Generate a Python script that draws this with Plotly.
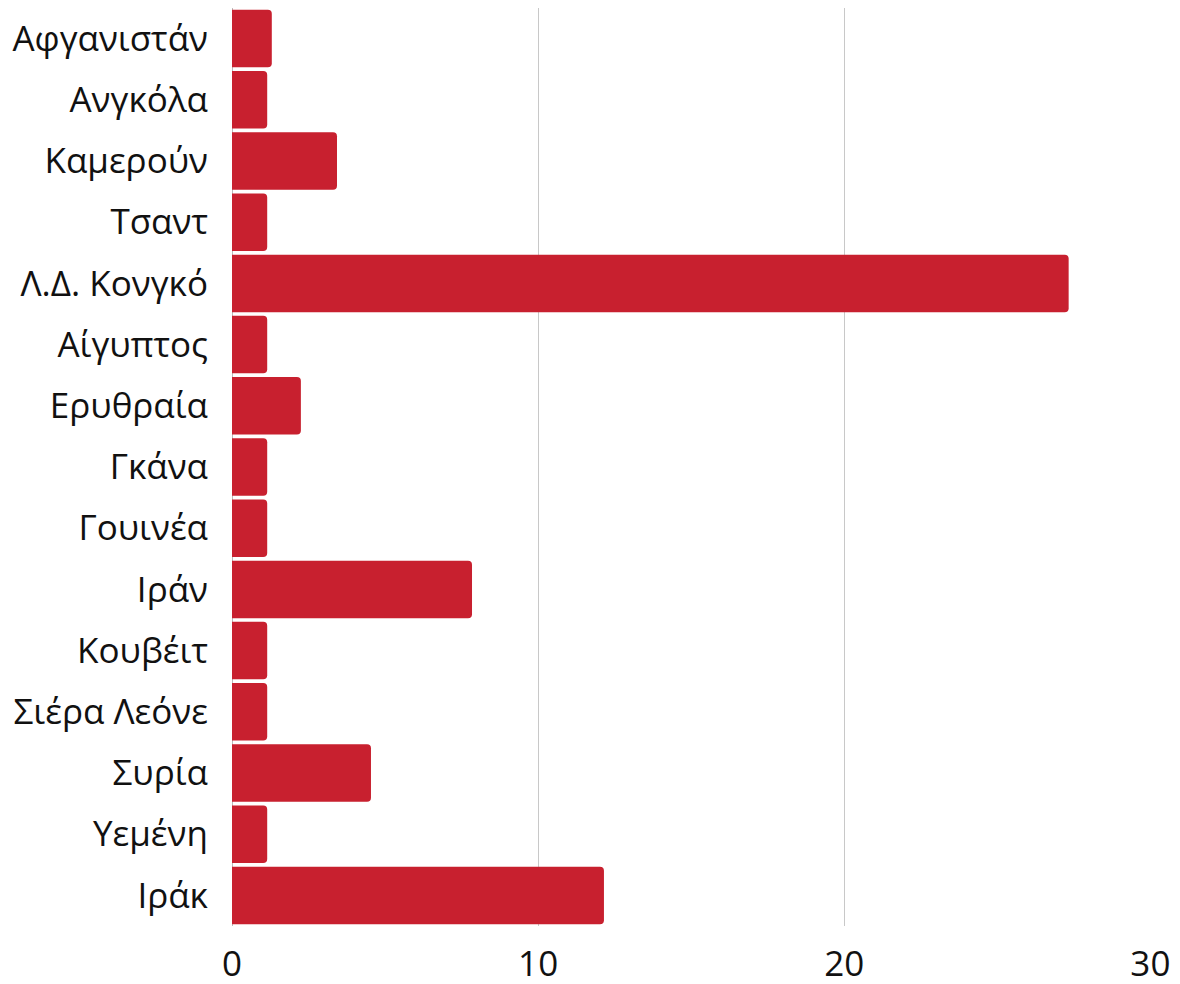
import plotly.graph_objects as go

countries = ["Αφγανιστάν", "Ανγκόλα", "Καμερούν", "Τσαντ", "Λ.Δ. Κονγκό", "Αίγυπτος",
             "Ερυθραία", "Γκάνα", "Γουινέα", "Ιράν", "Κουβέιτ", "Σιέρα Λεόνε",
             "Συρία", "Υεμένη", "Ιράκ"]
values = [1.3, 1.15, 3.43, 1.15, 27.33, 1.15, 2.25, 1.15, 1.15, 7.84, 1.15, 1.15, 4.54, 1.15, 12.15]
x_ticks = [0, 10, 20, 30]

fig = go.Figure(go.Bar(
    x=values, y=countries, orientation="h",
    marker=dict(color="#c8202f", line=dict(width=0)),
))
fig.update_layout(
    width=1164, height=976,
    margin=dict(l=224, r=21, t=0, b=58, autoexpand=False),
    paper_bgcolor="white", plot_bgcolor="white",
    font=dict(family="Open Sans", size=35, color="#111"),
    bargap=0.06, barcornerradius=4, showlegend=False,
)
fig.update_xaxes(range=[0, 30.02], tickvals=x_ticks, showgrid=True, gridcolor="#c8c8c8",
                 gridwidth=1, zeroline=True, zerolinecolor="#bbbbbb", zerolinewidth=1,
                 showline=False, ticklabelstandoff=14, automargin=False)
fig.update_yaxes(autorange="reversed", showgrid=False, showline=False,
                 ticklabelstandoff=23, automargin=False)
fig.write_html("out.html")
